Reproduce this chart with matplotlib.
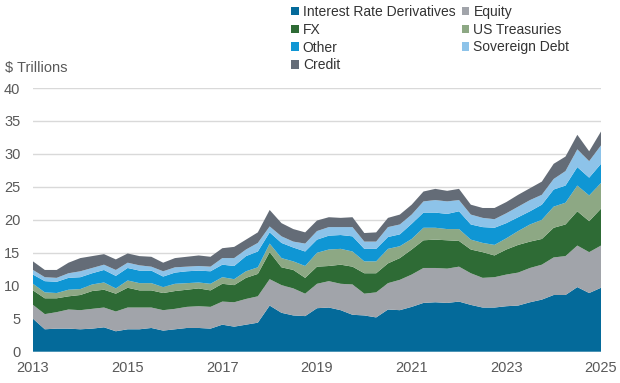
import matplotlib
matplotlib.use("Agg")
import matplotlib.pyplot as plt
import numpy as np

plt.rcParams['font.family'] = ['Liberation Sans', 'DejaVu Sans']

# quarterly, 2013 Q1 .. 2025 Q1
quarters = np.arange(49) / 4 + 2013

ird = [5.0, 3.4, 3.5, 3.5, 3.4, 3.5, 3.7, 3.1, 3.4, 3.4, 3.6, 3.2, 3.4, 3.6, 3.6, 3.5,
       4.1, 3.8, 4.1, 4.4, 7.0, 5.9, 5.5, 5.4, 6.6, 6.7, 6.3, 5.6, 5.5, 5.2, 6.4, 6.3,
       6.8, 7.4, 7.5, 7.4, 7.6, 7.1, 6.7, 6.7, 6.9, 7.0, 7.5, 7.9, 8.6, 8.6, 9.8, 8.9, 9.7]
equity = [2.1, 2.3, 2.5, 2.9, 2.9, 3.0, 3.0, 3.0, 3.3, 3.3, 3.1, 3.1, 3.1, 3.2, 3.3, 3.3,
          3.5, 3.7, 3.9, 4.0, 4.0, 4.2, 4.1, 3.4, 3.7, 4.0, 4.0, 4.6, 3.3, 3.8, 4.0, 4.6,
          4.9, 5.3, 5.2, 5.2, 5.3, 4.8, 4.5, 4.6, 4.8, 5.0, 5.2, 5.3, 5.7, 5.9, 6.3, 6.2, 6.4]
fx = [2.2, 2.4, 2.1, 2.0, 2.3, 2.7, 2.7, 2.7, 3.0, 2.6, 2.6, 2.6, 2.7, 2.6, 2.7, 2.5,
      2.7, 2.6, 3.2, 3.4, 4.1, 2.7, 2.8, 2.4, 2.6, 2.3, 2.9, 2.7, 3.1, 2.9, 3.0, 3.3,
      3.8, 4.2, 4.3, 4.3, 3.9, 3.6, 3.9, 3.3, 3.8, 4.2, 4.0, 3.9, 4.5, 4.8, 5.2, 4.7, 5.6]
us_treasuries = [1.0, 0.9, 0.8, 1.0, 0.9, 1.0, 1.1, 0.8, 1.1, 1.1, 1.1, 0.9, 1.1, 1.0, 0.9, 1.0,
                 1.0, 0.9, 1.0, 1.0, 1.3, 1.4, 1.3, 1.8, 2.1, 2.5, 2.4, 2.3, 1.8, 1.8, 2.2, 1.8,
                 1.6, 1.9, 1.8, 1.7, 1.8, 1.5, 1.4, 1.6, 1.7, 2.1, 2.6, 2.9, 3.2, 3.3, 3.9, 3.9, 3.9]
other = [1.4, 1.7, 1.7, 1.8, 1.8, 1.7, 1.9, 1.9, 1.9, 1.9, 1.9, 1.6, 1.7, 1.8, 1.8, 1.9,
         1.9, 2.0, 2.3, 2.4, 1.7, 2.3, 2.1, 2.2, 2.0, 2.1, 2.1, 2.3, 1.9, 1.9, 1.8, 1.8,
         2.3, 2.3, 2.3, 2.3, 2.7, 2.3, 2.4, 2.6, 2.3, 2.1, 2.0, 2.3, 2.6, 2.6, 2.8, 2.7, 2.9]
sovereign = [0.7, 0.6, 0.6, 0.7, 0.9, 0.8, 0.8, 0.9, 0.8, 0.8, 0.6, 0.8, 0.8, 0.7, 0.7, 0.7,
             1.0, 1.2, 1.0, 1.3, 0.9, 1.0, 0.9, 1.2, 1.3, 1.3, 1.2, 1.4, 1.1, 1.1, 1.5, 1.5,
             1.4, 1.7, 1.9, 1.9, 1.7, 1.5, 1.4, 1.3, 1.5, 1.6, 1.7, 1.5, 1.6, 2.2, 2.7, 2.5, 2.8]
credit = [1.3, 1.1, 1.2, 1.6, 2.0, 1.8, 1.6, 1.6, 1.4, 1.4, 1.5, 1.3, 1.4, 1.5, 1.6, 1.5,
          1.5, 1.7, 1.5, 1.6, 2.5, 2.0, 1.9, 1.7, 1.6, 1.5, 1.4, 1.5, 1.3, 1.4, 1.4, 1.5,
          1.5, 1.5, 1.7, 1.6, 1.7, 1.5, 1.5, 1.7, 1.7, 1.8, 1.8, 2.0, 2.3, 2.2, 2.2, 1.5, 2.1]

labels = ["Interest Rate Derivatives", "Equity", "FX", "US Treasuries",
          "Other", "Sovereign Debt", "Credit"]
colors = ["#046A9A", "#A1A4AA", "#2E6B35", "#8DA884", "#0F96D4", "#8DC3E9", "#646C77"]

fig = plt.figure(figsize=(6.2, 3.83), dpi=100)
ax = fig.add_axes([33/620, 1 - 351.7/383, 568/620, 263.7/383])

polys = ax.stackplot(quarters, ird, equity, fx, us_treasuries, other, sovereign, credit,
                     colors=colors, linewidth=0, zorder=2)

ax.set_xlim(2013, 2025)
ax.set_ylim(0, 40)
ax.set_xticks(range(2013, 2026, 2))
ax.set_yticks(range(0, 41, 5))
ax.grid(axis='y', color='#D9D9D9', linewidth=1, zorder=0)
ax.set_axisbelow(True)
for s in ax.spines.values():
    s.set_visible(False)
ax.tick_params(length=0, labelsize=10.5, colors='#595959')
ax.tick_params(axis='y', pad=9)
ax.tick_params(axis='x', pad=7)

fig.text(5/620, 1 - 68/383, "$ Trillions", fontsize=10.5, color='#595959', va='center', ha='left')

# column-wise order so rows read IRD/Equity, FX/UST, Other/Sov, Credit
order = [0, 2, 4, 6, 1, 3, 5]
leg = fig.legend([polys[i] for i in order], [labels[i] for i in order],
                 loc='upper left', bbox_to_anchor=(291/620, 1 - 5/383), ncol=2,
                 frameon=False, fontsize=10, handlelength=0.55, handleheight=0.55,
                 handletextpad=0.3, columnspacing=0.45, labelspacing=0.27,
                 borderpad=0, borderaxespad=0)
for t in leg.get_texts():
    t.set_color('#333333')

fig.savefig("out.png", dpi=100)
